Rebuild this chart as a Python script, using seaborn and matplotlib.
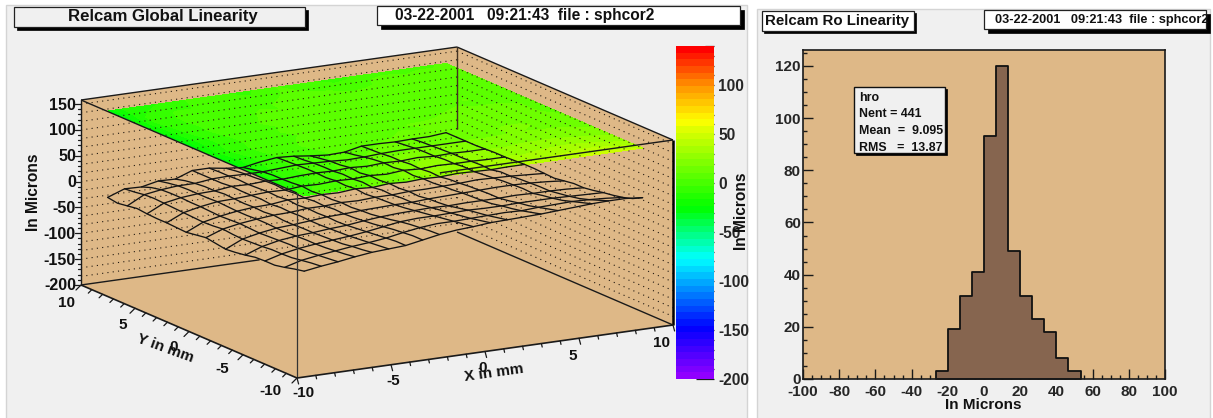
import numpy as np
import seaborn as sns
import matplotlib.pyplot as plt
import matplotlib.ticker as mticker
from matplotlib.colors import LinearSegmentedColormap, Normalize
from matplotlib.patches import Rectangle, Polygon

W, H = 1213, 418
TAN = "#deb887"
PANEL = "#f0f0f0"

# surface nodes, mm
x_nodes = [-9.1, -8.2, -7.3, -6.4, -5.5, -4.6, -3.7, -2.8, -1.9, -1.0, -0.1,
           0.8, 1.7, 2.6, 3.5, 4.4, 5.3, 6.2, 7.1, 8.0, 8.9]
y_nodes = [-9.1, -8.19, -7.28, -6.37, -5.46, -4.55, -3.64, -2.73, -1.82, -0.91, 0.0,
           0.91, 1.82, 2.73, 3.64, 4.55, 5.46, 6.37, 7.28, 8.19, 9.1]

# which nodes the wire mesh passes through
mesh_columns = [0, 1, 2, 3, 4, 5, 6, 7, 8, 10, 11, 12, 14, 15, 17, 18, 20]
mesh_rows = [0, 2, 4, 6, 8, 10, 12, 14, 16, 18, 20]

# global linearity in microns, one row per y node
surface_z = [
    [-6, -1, 3, 8, 12, 14, 16, 22, 28, 32, 34, 37, 38, 39, 40, 42, 44, 46, 47, 47, 44],
    [-10, -3, 1, 5, 9, 12, 16, 22, 27, 30, 31, 33, 34, 35, 35, 37, 38, 40, 40, 38, 34],
    [-15, -6, -1, 3, 7, 10, 14, 20, 25, 28, 28, 29, 30, 31, 30, 32, 33, 34, 33, 31, 28],
    [-19, -9, -3, 1, 4, 8, 12, 18, 23, 26, 25, 26, 27, 27, 26, 27, 28, 28, 27, 26, 24],
    [-19, -10, -4, 0, 3, 6, 10, 15, 20, 22, 22, 23, 24, 23, 23, 24, 24, 24, 23, 22, 21],
    [-20, -10, -4, 0, 2, 5, 8, 12, 16, 18, 19, 20, 20, 20, 19, 20, 21, 21, 20, 19, 17],
    [-24, -12, -5, -1, 1, 4, 6, 10, 13, 15, 16, 17, 16, 17, 17, 17, 18, 17, 17, 16, 14],
    [-27, -13, -6, -2, 1, 3, 5, 8, 10, 12, 13, 14, 14, 15, 16, 17, 18, 18, 17, 16, 14],
    [-29, -14, -7, -2, 0, 3, 6, 7, 9, 10, 11, 11, 13, 14, 15, 16, 17, 17, 16, 14, 11],
    [-26, -13, -6, -1, 0, 4, 5, 8, 7, 9, 10, 11, 10, 12, 13, 15, 15, 16, 15, 12, 8],
    [-23, -11, -5, -1, 2, 3, 6, 6, 8, 7, 9, 9, 11, 11, 12, 13, 15, 14, 13, 11, 9],
    [-26, -13, -6, -2, 0, 4, 4, 7, 6, 8, 7, 10, 9, 10, 10, 12, 12, 12, 13, 11, 10],
    [-29, -14, -7, -2, 1, 2, 6, 5, 7, 6, 9, 7, 10, 8, 10, 9, 11, 10, 9, 10, 10],
    [-28, -13, -6, -1, 0, 4, 4, 6, 5, 8, 7, 9, 8, 10, 8, 10, 9, 11, 10, 9, 9],
    [-27, -12, -5, 0, 1, 3, 5, 4, 7, 6, 8, 7, 9, 7, 10, 8, 10, 9, 9, 8, 8],
    [-27, -11, -5, -1, 2, 3, 4, 6, 5, 7, 6, 8, 6, 9, 7, 9, 8, 9, 8, 8, 8],
    [-26, -10, -4, -1, 0, 4, 3, 5, 4, 6, 7, 6, 8, 6, 8, 7, 9, 7, 8, 7, 7],
    [-24, -9, -4, -1, 0, 2, 4, 3, 4, 5, 7, 6, 5, 5, 6, 7, 7, 7, 7, 7, 6],
    [-27, -10, -5, -2, -2, 2, 3, 2, 2, 4, 6, 5, 4, 2, 3, 5, 6, 6, 6, 6, 6],
    [-30, -13, -9, -5, -5, 2, 3, 0, -2, 2, 5, 3, 1, -2, -1, 4, 5, 4, 5, 5, 6],
    [-27, -15, -16, -9, -10, 2, 2, -3, -6, 0, 4, 2, -2, -5, -4, 3, 3, 2, 3, 3, 6],
]

# ro histogram
hist_edges = [-26.67, -20.0, -13.33, -6.67, 0.0, 6.67, 13.33, 20.0, 26.67, 33.33, 40.0, 46.67, 53.33]
hist_counts = [3, 19, 32, 41, 93, 120, 49, 32, 23, 18, 8, 3]

stats_lines = ["hro", "Nent = 441", "Mean  =  9.095", "RMS   =  13.87"]
date_text = "03-22-2001   09:21:43  file : sphcor2"

z_ticks = [150, 100, 50, 0, -50, -100, -150, -200]
xy_ticks = [-10, -5, 0, 5, 10]
bar_ticks = [100, 50, 0, -50, -100, -150, -200]

Z_BOT, Z_TOP = -200, 158
Z_PLANE = 140
BAR_MAX = 140


def project(x, y, z):
    """parallel projection of the lego box onto figure pixels"""
    xf = (np.asarray(x, float) + 10) / 20
    yf = (np.asarray(y, float) + 10) / 20
    zf = (np.asarray(z, float) - Z_BOT) / (Z_TOP - Z_BOT)
    return 297 + 376 * xf - 216 * yf, 378 - 53 * xf - 93 * yf - 185 * zf


def add_axes_px(fig, x0, y0, x1, y1):
    return fig.add_axes([x0 / W, 1 - y1 / H, (x1 - x0) / W, (y1 - y0) / H])


def label_box(ax, x0, y0, x1, y1, text, text_x, size, fill, shadow, ha="left"):
    ax.add_patch(Rectangle((x0 + shadow, y0 + shadow), x1 - x0, y1 - y0, fc="black", ec="black", lw=0.5))
    box = Rectangle((x0, y0), x1 - x0, y1 - y0, fc=fill, ec="#222222", lw=0.9)
    ax.add_patch(box)
    t = ax.text(text_x, (y0 + y1) / 2, text, ha=ha, va="center", fontsize=size, fontweight="bold", color="#111111")
    t.set_clip_path(box)


def wall(ax, corners):
    ax.add_patch(Polygon(np.column_stack(project(*zip(*corners))), closed=True, fc=TAN, ec="none", zorder=1))


def edge(ax, a, b, lw=1.0, color="#1a1a1a", zorder=6):
    px, py = project(*zip(a, b))
    ax.plot(px, py, color=color, lw=lw, zorder=zorder, solid_capstyle="butt")


def draw_lego(ax, cmap, norm):
    xs, ys = np.meshgrid(x_nodes, y_nodes)
    zs = np.array(surface_z, float)

    wall(ax, [(-10, 10, Z_BOT), (10, 10, Z_BOT), (10, 10, Z_TOP), (-10, 10, Z_TOP)])
    wall(ax, [(10, 10, Z_BOT), (10, -10, Z_BOT), (10, -10, Z_TOP), (10, 10, Z_TOP)])
    wall(ax, [(-10, -10, Z_BOT), (10, -10, Z_BOT), (10, 10, Z_BOT), (-10, 10, Z_BOT)])
    wall(ax, [(-10, -10, Z_BOT), (-10, 10, Z_BOT), (-10, 10, Z_TOP), (-10, -10, Z_TOP)])
    wall(ax, [(-10, -10, Z_BOT), (10, -10, Z_BOT), (10, -10, Z_TOP), (-10, -10, Z_TOP)])

    # contour map on the upper plane
    px, py = project(xs, ys, np.full_like(zs, Z_PLANE))
    levels = np.arange(-200, BAR_MAX + 1, 6.8)
    ax.contourf(px, py, zs, levels=levels, cmap=cmap, norm=norm, zorder=2)

    # dotted z grid on the back walls
    for z in np.arange(-200 + 50 / 3, Z_TOP, 50 / 3):
        for a, b in [((-10, 10, z), (10, 10, z)), ((10, 10, z), (10, -10, z))]:
            gx, gy = project(*zip(a, b))
            ax.plot(gx, gy, color="#201810", lw=0.8, ls=(0, (1, 3.8)), zorder=3)

    # box outline
    edge(ax, (-10, 10, Z_BOT), (-10, 10, Z_TOP))
    edge(ax, (-10, 10, Z_TOP), (10, 10, Z_TOP))
    edge(ax, (10, 10, Z_TOP), (10, -10, Z_TOP))
    edge(ax, (10, -10, Z_TOP), (10, -10, Z_BOT), lw=1.8, color="black")
    edge(ax, (-10, 10, Z_TOP), (-10, -10, Z_TOP))
    edge(ax, (-2.4, -10, Z_TOP), (10, -10, Z_TOP))
    edge(ax, (-10, -10, Z_TOP), (-10, -10, Z_BOT), lw=0.9, color="#333333")
    edge(ax, (10, 10, Z_TOP), (10, 10, 0), lw=1.0, color="#443322")
    edge(ax, (-10, 10, Z_BOT), (-0.5, 10, Z_BOT))
    edge(ax, (10, 10, Z_BOT), (10, -10, Z_BOT))
    edge(ax, (-10, -10, Z_BOT), (10, -10, Z_BOT), lw=1.2)
    edge(ax, (-10, -10, Z_BOT), (-10, 10, Z_BOT), lw=1.2)

    # wire mesh
    mx, my = project(xs, ys, zs)
    ax.plot(mx[mesh_rows, :].T, my[mesh_rows, :].T, color="#141414", lw=0.95, zorder=5)
    ax.plot(mx[:, mesh_columns], my[:, mesh_columns], color="#141414", lw=0.95, zorder=5)

    # z axis
    for z in np.arange(-200, Z_TOP, 10):
        tx, ty = project(-10, 10, z)
        ln = 6 if z % 50 == 0 else 3
        ax.plot([tx - ln, tx], [ty, ty], color="#1a1a1a", lw=0.9, zorder=6)
    for z in z_ticks:
        tx, ty = project(-10, 10, z)
        ax.text(tx - 5, ty + 1, str(z), ha="right", va="center", fontsize=11.5, fontweight="bold", color="#111111")
    ax.text(34, 192, "In Microns", rotation=90, ha="center", va="center", fontsize=11.2, fontweight="bold", color="#111111")

    # x and y axes on the floor
    for v in range(-10, 11):
        major = v % 5 == 0
        tx, ty = project(v, -10, Z_BOT)
        ax.plot([tx, tx + (1.6 if major else 0.8)], [ty, ty + (6 if major else 3.5)], color="#1a1a1a", lw=0.9, zorder=6)
        tx, ty = project(-10, v, Z_BOT)
        ax.plot([tx, tx - (5 if major else 3.5)], [ty, ty + (5 if major else 3.5)], color="#1a1a1a", lw=0.9, zorder=6)
    for v in xy_ticks:
        tx, ty = project(v, -10, Z_BOT)
        ax.text(tx + 6 - 0.85 * (v + 10), ty + 15 + 0.16 * (v + 10), str(v), ha="center", va="center",
                fontsize=11, fontweight="bold", color="#111111")
        tx, ty = project(-10, v, Z_BOT)
        ax.text(tx - 6 - (10 - v) / 2, ty + 18 - (10 - v) * 0.25, str(v), ha="right", va="center",
                fontsize=11, fontweight="bold", color="#111111")
    ax.text(165, 348, "Y in mm", rotation=-20, rotation_mode="anchor", ha="center", va="center", fontsize=11, fontweight="bold", color="#111111")
    ax.text(494, 373, "X in mm", rotation=8, rotation_mode="anchor", ha="center", va="center", fontsize=11, fontweight="bold", color="#111111")


def draw_palette(fig, cmap, norm):
    ax = add_axes_px(fig, 676, 46, 714, 379)
    vals = np.linspace(-200, BAR_MAX, 51)
    ax.pcolormesh([0, 1], vals, ((vals[:-1] + vals[1:]) / 2)[:, None], cmap=cmap, norm=norm)
    ax.set_ylim(-200, BAR_MAX)
    ax.set_xticks([])
    ax.yaxis.tick_right()
    ax.set_yticks(bar_ticks)
    ax.yaxis.set_minor_locator(mticker.MultipleLocator(10))
    ax.tick_params(axis="y", which="major", direction="in", length=13, width=0.9, labelsize=11.2, pad=3, color="#1a1a1a")
    ax.tick_params(axis="y", which="minor", direction="in", length=6.5, width=0.9, color="#1a1a1a")
    for s in ax.spines.values():
        s.set_visible(False)
    ax.patch.set_alpha(0)
    fig.text(742 / W, 1 - 211 / H, "In Microns", rotation=90, ha="center", va="center", fontsize=11.2, fontweight="bold", color="#111111")


def draw_hist(fig):
    ax = add_axes_px(fig, 803, 50, 1165, 379)
    centers = (np.array(hist_edges[:-1]) + np.array(hist_edges[1:])) / 2
    sns.histplot(x=centers, weights=hist_counts, bins=hist_edges, element="step", color="#86654f",
                 edgecolor="#111111", alpha=1, lw=1.3, ax=ax)
    ax.set_xlim(-100, 100)
    ax.set_ylim(0, 126.1)
    ax.set_facecolor("#deb887")
    ax.set_ylabel("")
    ax.set_xlabel("")
    ax.set_xticks(range(-100, 101, 20))
    ax.set_yticks(range(0, 121, 20))
    ax.xaxis.set_minor_locator(mticker.MultipleLocator(5))
    ax.yaxis.set_minor_locator(mticker.MultipleLocator(5))
    ax.tick_params(which="major", direction="in", length=7.2, width=1, labelsize=11, pad=4.5, color="#1a1a1a", bottom=True, left=True)
    ax.tick_params(axis="y", which="major", pad=1.5)
    ax.tick_params(which="minor", direction="in", length=3, width=1, color="#1a1a1a", bottom=True, left=True)
    for s in ax.spines.values():
        s.set_visible(True)
        s.set_color("#1a1a1a")
        s.set_linewidth(1.2)
    fig.text(983 / W, 1 - 405 / H, "In Microns", ha="center", va="center", fontsize=11, fontweight="bold", color="#111111")

    # stats box goes over the histogram
    box_ax = add_axes_px(fig, 850, 82, 952, 160)
    box_ax.set_xlim(850, 952)
    box_ax.set_ylim(160, 82)
    box_ax.axis("off")
    box_ax.add_patch(Rectangle((856, 89), 91, 66, fc="black", ec="black", lw=0.5))
    box_ax.add_patch(Rectangle((854, 87), 91, 66, fc=PANEL, ec="#111111", lw=1))
    for line, yy in zip(stats_lines, [98, 114, 131, 148]):
        box_ax.text(859, yy, line, ha="left", va="center", fontsize=8.9, fontweight="bold", color="#111111")


def main():
    sns.set_theme(style="ticks")
    plt.rcParams["font.family"] = ["Liberation Sans", "DejaVu Sans"]
    plt.rcParams["font.weight"] = "bold"
    plt.rcParams["axes.labelweight"] = "bold"
    plt.rcParams["axes.unicode_minus"] = False

    cmap = LinearSegmentedColormap.from_list(
        "root_pretty",
        [(0.0, "#9000ff"), (50 / 340, "#0000ff"), (122 / 340, "#00ffff"), (175 / 340, "#00ff00"),
         (260 / 340, "#e8ff00"), (265 / 340, "#ffff00"), (300 / 340, "#ff9900"), (1.0, "#ff0000")], N=50)
    norm = Normalize(-200, BAR_MAX)

    fig = plt.figure(figsize=(W / 100, H / 100), dpi=100, facecolor="white")
    base = fig.add_axes([0, 0, 1, 1])
    base.set_xlim(0, W)
    base.set_ylim(H, 0)
    base.axis("off")

    base.add_patch(Rectangle((6, 5), 741, 414, fc=PANEL, ec="#d4d4d4", lw=1))
    base.add_patch(Rectangle((757, 9), 453, 410, fc=PANEL, ec="#d4d4d4", lw=1))

    draw_lego(base, cmap, norm)

    label_box(base, 14, 7, 305, 27, "Relcam Global Linearity", 163, 12.1, PANEL, 2.5, ha="center")
    label_box(base, 377, 6, 740, 25, date_text, 395, 11.2, "white", 4)
    label_box(base, 762, 11, 914, 31, "Relcam Ro Linearity", 765, 10.8, "white", 2)
    label_box(base, 984, 10, 1206, 29, date_text, 995, 9.2, "white", 4)

    draw_palette(fig, cmap, norm)
    draw_hist(fig)

    plt.savefig("out.png", dpi=100)


if __name__ == "__main__":
    main()
